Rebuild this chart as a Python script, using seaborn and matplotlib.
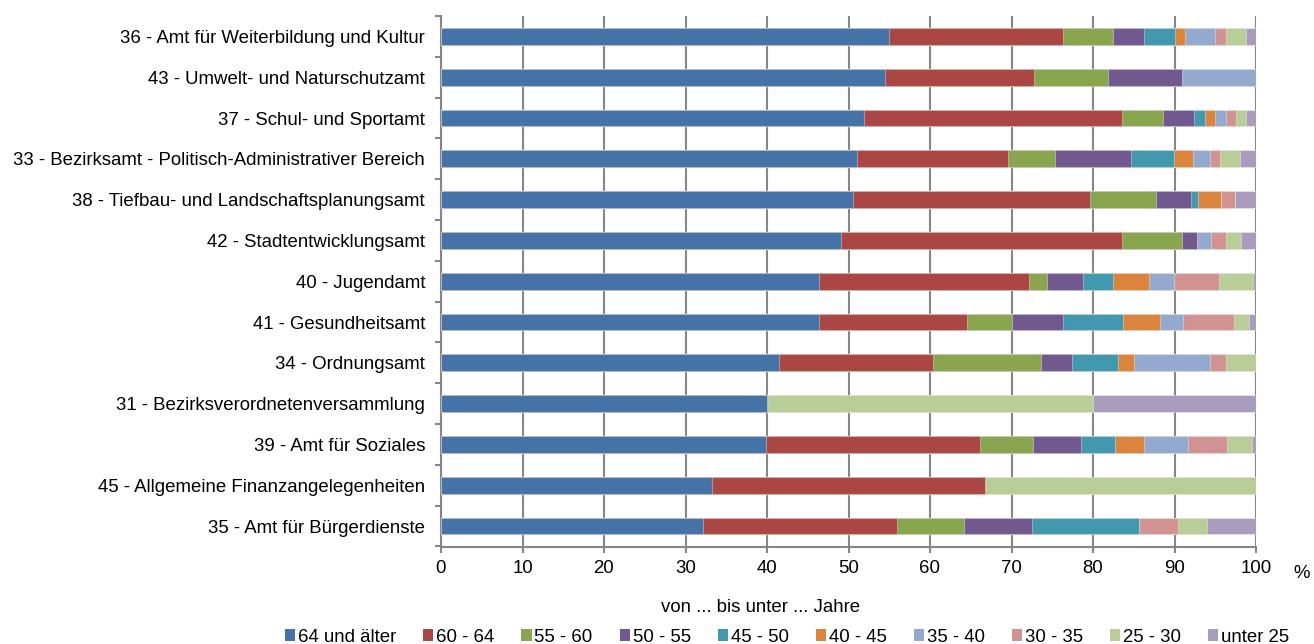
import matplotlib
matplotlib.use("Agg")
import matplotlib.pyplot as plt
from matplotlib.patches import Patch
from matplotlib.ticker import MultipleLocator
import numpy as np
import pandas as pd
import seaborn as sns

# Departments, top to bottom
departments = [
    "36 - Amt für Weiterbildung und Kultur",
    "43 - Umwelt- und Naturschutzamt",
    "37 - Schul- und Sportamt",
    "33 - Bezirksamt - Politisch-Administrativer Bereich",
    "38 - Tiefbau- und Landschaftsplanungsamt",
    "42 - Stadtentwicklungsamt",
    "40 - Jugendamt",
    "41 - Gesundheitsamt",
    "34 - Ordnungsamt",
    "31 - Bezirksverordnetenversammlung",
    "39 - Amt für Soziales",
    "45 - Allgemeine Finanzangelegenheiten",
    "35 - Amt für Bürgerdienste",
]

# Share of staff (%) per age group, one value per department
age_64_plus = [55.0, 54.5, 51.9, 51.1, 50.5, 49.1, 46.4, 46.4, 41.5, 40.0, 39.9, 33.3, 32.1]
age_60_64   = [21.3, 18.2, 31.6, 18.5, 29.1, 34.5, 25.8, 18.1, 18.9, 0.0, 26.2, 33.4, 23.8]
age_55_60   = [6.2, 9.1, 5.1, 5.7, 8.1, 7.3, 2.1, 5.5, 13.2, 0.0, 6.5, 0.0, 8.3]
age_50_55   = [3.8, 9.1, 3.8, 9.4, 4.3, 1.8, 4.5, 6.3, 3.8, 0.0, 5.9, 0.0, 8.3]
age_45_50   = [3.7, 0.0, 1.3, 5.2, 0.9, 0.0, 3.6, 7.4, 5.7, 0.0, 4.2, 0.0, 13.1]
age_40_45   = [1.3, 0.0, 1.3, 2.4, 2.8, 0.0, 4.5, 4.5, 1.9, 0.0, 3.6, 0.0, 0.0]
age_35_40   = [3.7, 9.1, 1.3, 2.1, 0.0, 1.8, 3.0, 2.8, 9.4, 0.0, 5.3, 0.0, 0.0]
age_30_35   = [1.3, 0.0, 1.3, 1.2, 1.7, 1.8, 5.6, 6.3, 1.9, 0.0, 4.8, 0.0, 4.8]
age_25_30   = [2.5, 0.0, 1.2, 2.4, 0.0, 1.8, 4.1, 1.8, 3.7, 40.0, 3.1, 33.3, 3.6]
age_under25 = [1.2, 0.0, 1.2, 2.0, 2.6, 1.9, 0.4, 0.9, 0.0, 20.0, 0.5, 0.0, 6.0]

group_labels = ["64 und älter", "60 - 64", "55 - 60", "50 - 55", "45 - 50",
                "40 - 45", "35 - 40", "30 - 35", "25 - 30", "unter 25"]
group_colors = ["#4572A7", "#AA4643", "#89A54E", "#71588F", "#4198AF",
                "#DB843D", "#93A9CF", "#D19392", "#B9CD96", "#A99BBD"]

series = [age_64_plus, age_60_64, age_55_60, age_50_55, age_45_50,
          age_40_45, age_35_40, age_30_35, age_25_30, age_under25]

sns.set_style("white")
plt.rcParams["font.family"] = ["Liberation Sans", "DejaVu Sans"]
plt.rcParams["text.color"] = "black"
plt.rcParams["xtick.labelcolor"] = "black"
plt.rcParams["ytick.labelcolor"] = "black"

grid_grey = "#868686"
fs = 13.4

fig = plt.figure(figsize=(13.14, 6.44), dpi=100)
ax = fig.add_axes([441 / 1314, 1 - 546.5 / 644, (1256 - 441) / 1314, (546.5 - 16) / 644])

# Stacked bars: draw cumulative totals from the outermost group inwards
df = pd.DataFrame(np.array(series).T, columns=group_labels)
df.insert(0, "Bereich", departments)
cum = df[group_labels].cumsum(axis=1)
for label, color in reversed(list(zip(group_labels, group_colors))):
    sns.barplot(x=cum[label], y=df["Bereich"], orient="h", color=color,
                saturation=1, width=0.41, edgecolor=(1, 1, 1, 0.35),
                linewidth=0.8, ax=ax, zorder=3)

ax.set_xlim(0, 100)
ax.set_ylim(len(departments) - 0.5, -0.5)
ax.set_xlabel("")
ax.set_ylabel("")

ax.xaxis.set_major_locator(MultipleLocator(10))
ax.grid(axis="x", color=grid_grey, linewidth=1.5, zorder=0)
ax.grid(axis="y", visible=False)
ax.set_axisbelow(True)

for side in ("top", "right"):
    ax.spines[side].set_visible(False)
for side in ("left", "bottom"):
    ax.spines[side].set_color(grid_grey)
    ax.spines[side].set_linewidth(1.5)

ax.tick_params(axis="x", which="major", direction="out", length=4, width=1.5,
               color=grid_grey, labelsize=fs, labelcolor="black", pad=6, bottom=True)
ax.tick_params(axis="y", which="major", length=0, labelsize=fs,
               labelcolor="black", pad=11.5)
ax.set_yticks(np.arange(-0.5, len(departments), 1.0), minor=True)
ax.tick_params(axis="y", which="minor", direction="out", length=4, width=1.5,
               color=grid_grey, left=True)

fig.text(1302 / 1314, 1 - 574 / 644, "%", fontsize=fs, ha="center", va="center",
         color="black")
fig.text(761 / 1314, 1 - 608 / 644, "von ... bis unter ... Jahre",
         fontsize=fs, ha="center", va="center", color="black")

handles = [Patch(facecolor=c, edgecolor="none") for c in group_colors]
fig.legend(handles, group_labels, loc="center", ncol=10, frameon=False,
           bbox_to_anchor=(787 / 1314, 1 - 637 / 644), fontsize=fs,
           labelcolor="black",
           handlelength=0.55, handleheight=0.55, handletextpad=0.15,
           columnspacing=1.45, borderaxespad=0, borderpad=0)

fig.savefig("out.png", dpi=100, facecolor="white")
